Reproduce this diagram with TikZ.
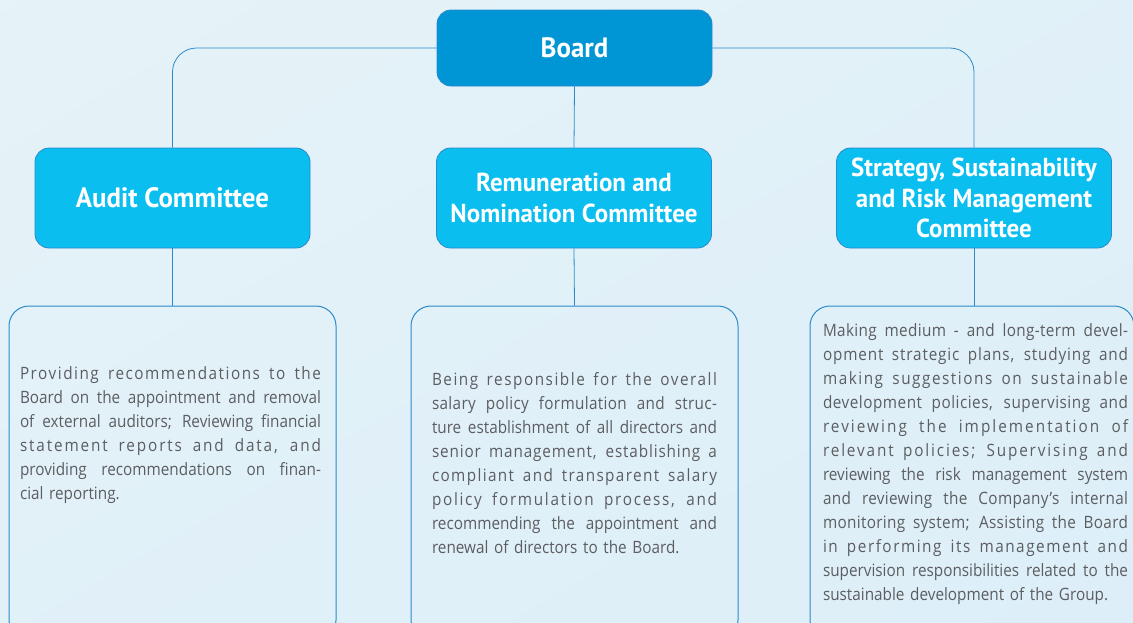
\documentclass[tikz,border=0pt]{standalone}
\usepackage{fontspec}
\setmainfont{Open Sans}[FakeStretch=0.9]
\newfontfamily\headfont{PT Sans}[FakeStretch=0.96]
\usetikzlibrary{positioning}
\definecolor{boardblue}{HTML}{0096D6}
\definecolor{cttblue}{HTML}{0ABEF0}
\definecolor{edgeblue}{HTML}{2A8ACB}
\definecolor{bodygray}{HTML}{5C5D60}
\definecolor{bgtop}{HTML}{E6F3F8}
\definecolor{bgmid}{HTML}{F3F7FA}
\definecolor{bgbot}{HTML}{DCEEF8}
\newlength\jw
\newcommand\jl[2][0]{\noindent\makebox[\jw][s]{\addfontfeature{LetterSpace=#1}%
  \spaceskip=0pt\xspaceskip=0pt #2}\par}

\begin{document}
\begin{tikzpicture}[x=1pt,y=-1pt]
  \tikzset{head/.style={rounded corners=14pt, draw=edgeblue, line width=0.8pt, text=white,
           minimum width=275pt, minimum height=100pt, inner sep=0pt, align=center,
           font=\headfont\bfseries\fontsize{26}{30.5}\selectfont},
           board/.style={head, fill=boardblue, minimum height=76pt,
           font=\headfont\bfseries\fontsize{28}{30}\selectfont},
           ctt/.style={head, fill=cttblue},
           descbox/.style={rounded corners=20pt, draw=edgeblue, line width=1pt,
           minimum width=327pt, minimum height=334pt, inner sep=0pt},
           desctext/.style={text=bodygray, inner sep=0pt, align=left,
           font=\fontsize{17}{24}\selectfont},
           link/.style={draw=edgeblue, line width=0.8pt, rounded corners=24pt}}
  \useasboundingbox (0,0) rectangle (1133,622);
  \clip (0,0) rectangle (1133,622);
  \shade[top color=bgtop, middle color=bgmid, bottom color=bgbot, shading angle=30]
    (-200,-200) rectangle (1333,822);
  \node[board] (board) at (574.5,48) {Board};
  \node[ctt, font=\headfont\bfseries\fontsize{28}{30}\selectfont] (audit) at (172.5,198) {Audit Committee};
  \node[ctt] (remun) at (574,198) {Remuneration and\\Nomination Committee};
  \node[ctt] (strat) at (974,198) {Strategy, Sustainability\\and Risk Management\\Committee};
  \node[descbox] (auditbox) at (172.5,473) {};
  \node[descbox] (remunbox) at (574.5,473) {};
  \node[descbox, minimum width=324pt] (stratbox) at (972,473) {};
  \node[desctext, text width=301pt] (audittxt) at (170.5,435) {\setlength\jw{301pt}%
    \jl[9]{Providing recommendations to the}
    \jl{Board on the appointment and removal}
    \jl{of external auditors; Reviewing financial}
    \jl[11]{statement reports and data, and}
    \jl{providing recommendations on finan-}
    \noindent cial reporting.};
  \node[desctext, text width=285pt] (remuntxt) at (574.5,463) {\setlength\jw{285pt}%
    \jl[9]{Being responsible for the overall}
    \jl[2]{salary policy formulation and struc-}
    \jl{ture establishment of all directors and}
    \jl[5]{senior management, establishing a}
    \jl[8]{compliant and transparent salary}
    \jl[10]{policy formulation process, and}
    \jl{recommending the appointment and}
    \noindent renewal of directors to the Board.};
  \node[desctext, text width=305pt] (strattxt) at (975.5,464) {\setlength\jw{305pt}%
    \jl[2]{Making medium - and long-term devel-}
    \jl[5]{opment strategic plans, studying and}
    \jl[9]{making suggestions on sustainable}
    \jl[3]{development policies, supervising and}
    \jl[12]{reviewing the implementation of}
    \jl[11]{relevant policies; Supervising and}
    \jl{reviewing the risk management system}
    \jl[2]{and reviewing the Company's internal}
    \jl[2]{monitoring system; Assisting the Board}
    \jl[9]{in performing its management and}
    \jl{supervision responsibilities related to the}
    \noindent sustainable development of the Group.};
  \draw[link] (board.west) -| (audit.north);
  \draw[link] (board.east) -| (strat.north);
  \draw[link] (board.south) -- (remun.north);
  \draw[link] (audit.south) -- (auditbox.north);
  \draw[link] (remun.south) -- (remunbox.north);
  \draw[link] (strat.south) -- (strat.south |- stratbox.north);
\end{tikzpicture}
\end{document}
